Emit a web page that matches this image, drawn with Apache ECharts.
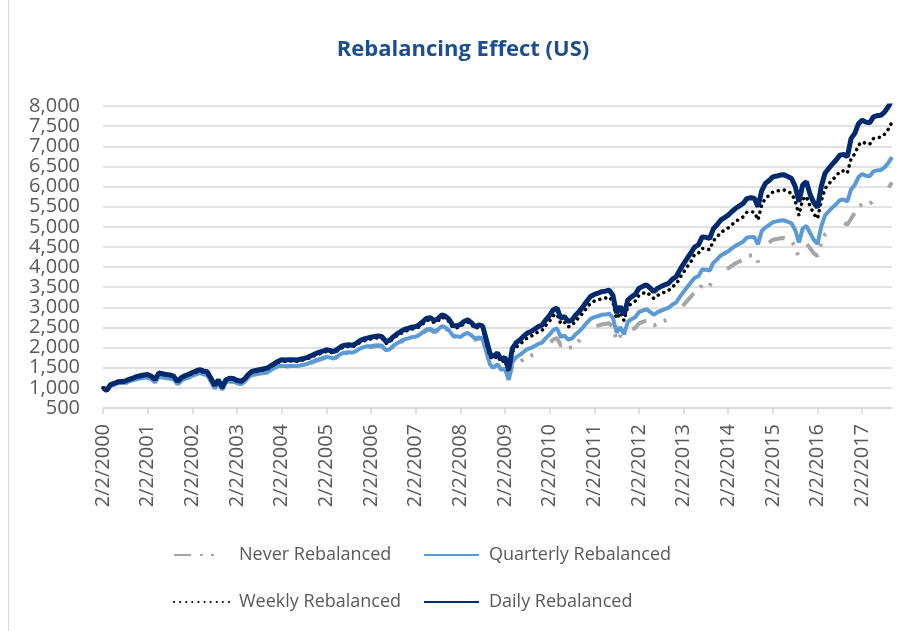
<!DOCTYPE html>
<html>
<head>
<meta charset="utf-8">
<title>Rebalancing Effect (US)</title>
<script src="https://cdn.jsdelivr.net/npm/echarts@6/dist/echarts.min.js"></script>
<style>
	html, body { margin: 0; padding: 0; background: #fff; }
	#chart { width: 913px; height: 631px; }
</style>
</head>
<body>
<div id="chart"></div>
<script>
	// monthly readings, Feb 2000 .. Oct 2017 (index 0 = 2/2/2000)
	var daily = [
		1000, 940, 1080, 1110, 1150, 1160, 1170, 1210, 1240, 1280, 1300, 1320,
		1330, 1290, 1210, 1370, 1350, 1330, 1320, 1290, 1160, 1250, 1300, 1340,
		1380, 1420, 1450, 1420, 1400, 1240, 1060, 1200, 1010, 1200, 1240, 1230,
		1190, 1160, 1220, 1330, 1410, 1430, 1450, 1470, 1490, 1540, 1600, 1660,
		1700, 1690, 1700, 1700, 1690, 1710, 1730, 1760, 1800, 1845, 1880, 1910,
		1945, 1930, 1900, 1960, 2030, 2060, 2070, 2060, 2100, 2170, 2210, 2235,
		2260, 2275, 2290, 2270, 2150, 2180, 2270, 2340, 2400, 2450, 2480, 2510,
		2520, 2570, 2650, 2730, 2740, 2670, 2720, 2810, 2780, 2700, 2550, 2540,
		2570, 2650, 2690, 2620, 2520, 2560, 2540, 2200, 1850, 1780, 1870, 1700,
		1760, 1450, 1980, 2120, 2190, 2280, 2360, 2400, 2460, 2520, 2560, 2690,
		2800, 2940, 2980, 2730, 2770, 2650, 2680, 2810, 2900, 3020, 3150, 3270,
		3320, 3350, 3390, 3400, 3430, 3300, 2860, 3020, 2810, 3180, 3260, 3320,
		3470, 3520, 3560, 3480, 3390, 3470, 3520, 3560, 3600, 3700, 3760, 3930,
		4080, 4220, 4360, 4500, 4550, 4750, 4740, 4710, 4950, 5050, 5170, 5230,
		5290, 5380, 5460, 5520, 5580, 5700, 5720, 5710, 5500, 5900, 6080, 6150,
		6240, 6260, 6285, 6290, 6250, 6200, 6000, 5620, 6040, 6120, 5800, 5600,
		5480, 6000, 6330, 6450, 6560, 6660, 6780, 6800, 6740, 7190, 7320, 7560,
		7650, 7600, 7580, 7730, 7760, 7770, 7850, 7980, 8160
	];
	var weekly = [
		1000, 935, 1070, 1090, 1130, 1140, 1150, 1190, 1220, 1260, 1280, 1300,
		1310, 1270, 1190, 1350, 1330, 1310, 1300, 1270, 1140, 1230, 1280, 1320,
		1350, 1390, 1420, 1390, 1370, 1215, 1040, 1175, 990, 1175, 1215, 1205,
		1165, 1135, 1195, 1305, 1380, 1400, 1420, 1440, 1460, 1510, 1570, 1625,
		1665, 1655, 1665, 1665, 1655, 1675, 1695, 1725, 1765, 1810, 1840, 1870,
		1905, 1890, 1860, 1920, 1990, 2020, 2030, 2020, 2060, 2125, 2165, 2190,
		2215, 2230, 2245, 2225, 2105, 2135, 2225, 2295, 2350, 2400, 2430, 2460,
		2470, 2520, 2595, 2675, 2685, 2615, 2665, 2755, 2725, 2645, 2500, 2490,
		2520, 2595, 2635, 2570, 2470, 2510, 2490, 2110, 1775, 1710, 1795, 1630,
		1690, 1390, 1900, 2015, 2080, 2165, 2240, 2280, 2335, 2395, 2430, 2555,
		2660, 2795, 2830, 2595, 2630, 2515, 2545, 2670, 2755, 2870, 2990, 3105,
		3155, 3180, 3220, 3230, 3260, 3135, 2715, 2870, 2670, 3020, 3095, 3155,
		3295, 3345, 3380, 3305, 3220, 3295, 3345, 3380, 3420, 3515, 3570, 3735,
		3875, 4010, 4140, 4320, 4345, 4465, 4455, 4430, 4655, 4745, 4860, 4915,
		4975, 5055, 5135, 5190, 5245, 5360, 5375, 5365, 5170, 5545, 5715, 5780,
		5865, 5885, 5910, 5915, 5875, 5830, 5640, 5285, 5680, 5755, 5510, 5320,
		5205, 5640, 5950, 6065, 6165, 6260, 6375, 6390, 6335, 6690, 6810, 7030,
		7110, 7070, 7050, 7190, 7215, 7225, 7300, 7420, 7600
	];
	var quarterly = [
		1000, 930, 1055, 1080, 1115, 1120, 1125, 1160, 1185, 1220, 1235, 1250,
		1250, 1215, 1135, 1290, 1270, 1250, 1240, 1215, 1090, 1175, 1220, 1260,
		1295, 1335, 1365, 1335, 1315, 1165, 995, 1130, 950, 1130, 1165, 1155,
		1120, 1090, 1145, 1250, 1325, 1345, 1365, 1380, 1385, 1430, 1490, 1545,
		1545, 1540, 1545, 1545, 1540, 1555, 1575, 1600, 1640, 1680, 1710, 1740,
		1770, 1755, 1730, 1785, 1845, 1875, 1885, 1875, 1910, 1975, 2010, 2035,
		2035, 2050, 2060, 2045, 1935, 1960, 2045, 2105, 2160, 2205, 2230, 2260,
		2270, 2315, 2385, 2455, 2465, 2405, 2450, 2530, 2500, 2430, 2295, 2285,
		2260, 2330, 2365, 2305, 2220, 2255, 2235, 1890, 1575, 1505, 1590, 1445,
		1480, 1200, 1645, 1760, 1820, 1890, 1960, 1990, 2040, 2090, 2125, 2235,
		2325, 2440, 2475, 2265, 2300, 2200, 2225, 2330, 2405, 2505, 2615, 2715,
		2755, 2780, 2815, 2820, 2845, 2740, 2375, 2505, 2330, 2640, 2705, 2755,
		2880, 2920, 2955, 2890, 2815, 2880, 2920, 2955, 2990, 3070, 3120, 3260,
		3385, 3505, 3620, 3735, 3775, 3940, 3935, 3910, 4110, 4190, 4290, 4340,
		4390, 4465, 4530, 4580, 4630, 4730, 4750, 4740, 4565, 4895, 4985, 5045,
		5115, 5135, 5155, 5160, 5125, 5085, 4920, 4610, 4955, 5020, 4845, 4675,
		4575, 5010, 5285, 5385, 5480, 5560, 5660, 5680, 5630, 5930, 6040, 6235,
		6310, 6270, 6255, 6375, 6400, 6410, 6475, 6585, 6730
	];
	var never = [
		1000, 925, 1050, 1075, 1110, 1115, 1120, 1155, 1180, 1215, 1230, 1245,
		1235, 1200, 1125, 1275, 1255, 1235, 1230, 1200, 1080, 1165, 1210, 1245,
		1285, 1320, 1350, 1320, 1300, 1155, 985, 1115, 940, 1115, 1155, 1145,
		1105, 1080, 1135, 1235, 1310, 1330, 1350, 1365, 1375, 1420, 1475, 1530,
		1530, 1520, 1530, 1530, 1520, 1540, 1555, 1585, 1620, 1660, 1690, 1720,
		1750, 1735, 1710, 1765, 1825, 1855, 1865, 1855, 1890, 1955, 1990, 2010,
		2010, 2025, 2040, 2020, 1915, 1940, 2020, 2085, 2135, 2180, 2205, 2235,
		2245, 2285, 2360, 2430, 2440, 2375, 2420, 2500, 2475, 2405, 2270, 2260,
		2235, 2305, 2340, 2280, 2190, 2225, 2210, 1870, 1555, 1480, 1535, 1395,
		1425, 1220, 1545, 1590, 1640, 1710, 1770, 1800, 1845, 1890, 1920, 2015,
		2100, 2205, 2235, 2050, 2080, 1990, 2010, 2110, 2175, 2295, 2395, 2485,
		2525, 2545, 2575, 2585, 2605, 2510, 2175, 2295, 2135, 2385, 2445, 2490,
		2600, 2640, 2670, 2610, 2545, 2600, 2640, 2670, 2700, 2775, 2820, 2950,
		3060, 3165, 3270, 3375, 3415, 3560, 3555, 3530, 3710, 3790, 3880, 3920,
		3970, 4035, 4095, 4140, 4185, 4275, 4290, 4285, 4125, 4425, 4560, 4610,
		4680, 4695, 4715, 4720, 4690, 4650, 4500, 4215, 4530, 4590, 4465, 4340,
		4275, 4590, 4810, 4870, 4920, 4995, 5085, 5100, 5055, 5200, 5350, 5500,
		5560, 5550, 5560, 5660, 5720, 5790, 5850, 5960, 6100
	];

	// x 轴日期: 每月 2 号, 只显示每年 2/2
	var dates = [];
	for (var i = 0; i < daily.length; i++) {
		var m = (1 + i) % 12 + 1,
			y = 2000 + Math.floor((1 + i) / 12);
		dates.push(m + '/2/' + y);
	}

	// y 轴刻度
	var yMin = 500, yMax = 8000, yStep = 500;

	var font = '"Open Sans", "Noto Sans", sans-serif';
	var grey = '#595959';

	var series = [
		{ name: 'Never Rebalanced', data: never, color: '#a5a5a5',
			lineStyle: { width: 4, type: [17, 9, 3, 8, 3, 22] } },
		{ name: 'Quarterly Rebalanced', data: quarterly, color: '#5b9bd5',
			lineStyle: { width: 4 } },
		{ name: 'Weekly Rebalanced', data: weekly, color: '#000000',
			lineStyle: { width: 3.5, type: [0.1, 6], cap: 'round' } },
		{ name: 'Daily Rebalanced', data: daily, color: '#002a6e',
			lineStyle: { width: 5 } }
	];
	series.forEach(function (s) {
		s.type = 'line';
		s.symbol = 'none';
		s.showSymbol = false;
		s.lineStyle.color = s.color;
		s.itemStyle = { color: s.color };
	});

	// 图例, 2 x 2 (symbol 隐藏, 只画线)
	function legendAt(name, left, top) {
		return {
			data: [name],
			left: left,
			top: top,
			padding: 0,
			itemWidth: 55,
			itemHeight: 14,
			selectedMode: false,
			itemStyle: { color: 'rgba(0,0,0,0)', borderColor: 'rgba(0,0,0,0)', borderWidth: 0, opacity: 0 },
			textStyle: { fontFamily: font, fontSize: 18, color: grey, padding: [0, 0, 0, 5] }
		};
	}

	var chart = echarts.init(document.getElementById('chart'), null, { renderer: 'canvas' });
	chart.setOption({
		animation: false,
		backgroundColor: '#ffffff',
		title: {
			text: 'Rebalancing Effect (US)',
			left: 458,
			textAlign: 'center',
			top: 34,
			textStyle: { fontFamily: font, fontSize: 22, fontWeight: 'bold', color: '#1b4f8f' }
		},
		legend: [
			legendAt('Never Rebalanced', 173, 546),
			legendAt('Quarterly Rebalanced', 423, 546),
			legendAt('Weekly Rebalanced', 173, 593),
			legendAt('Daily Rebalanced', 423, 593)
		],
		grid: {
			left: 103,
			right: 21,
			top: 106,
			bottom: 223,
			containLabel: false,
			outerBoundsMode: 'none'
		},
		xAxis: {
			type: 'category',
			data: dates,
			boundaryGap: false,
			axisLine: { lineStyle: { color: '#d9d9d9', width: 1.5 } },
			axisTick: { interval: 11, length: 6, lineStyle: { color: '#d9d9d9', width: 1.5 } },
			axisLabel: {
				interval: 11,
				rotate: 90,
				margin: 16,
				fontFamily: font,
				fontSize: 20,
				color: grey
			},
			splitLine: { show: false }
		},
		yAxis: {
			type: 'value',
			min: yMin,
			max: yMax,
			interval: yStep,
			axisLine: { show: false },
			axisTick: { show: false },
			axisLabel: {
				margin: 23,
				fontFamily: font,
				fontSize: 20,
				color: grey,
				formatter: function (v) { return v.toLocaleString('en-US'); }
			},
			splitLine: { lineStyle: { color: '#d9d9d9', width: 1.5 } }
		},
		graphic: [{
			type: 'line',
			shape: { x1: 8.5, y1: 0, x2: 8.5, y2: 631 },
			style: { stroke: '#d9d9d9', lineWidth: 1 }
		}],
		series: series
	});
</script>
</body>
</html>
